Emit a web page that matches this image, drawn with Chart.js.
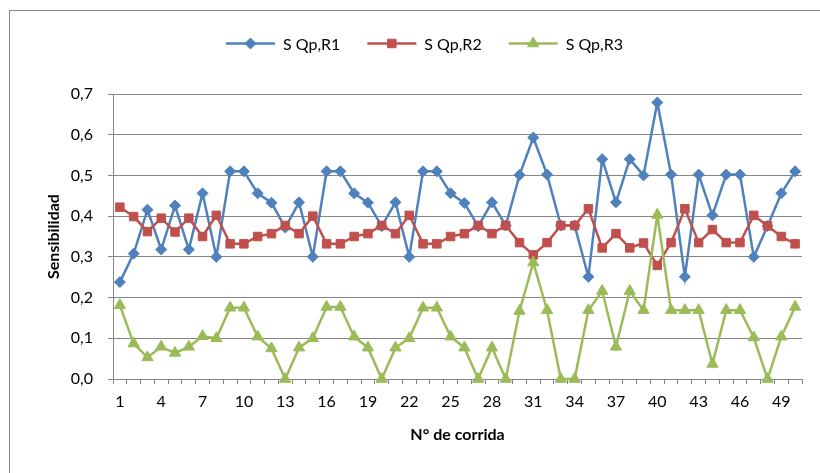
<!DOCTYPE html>
<html>
<head>
<meta charset="utf-8">
<script src="https://cdn.jsdelivr.net/npm/chart.js@4/dist/chart.umd.min.js"></script>
<style>
  html, body { margin: 0; padding: 0; background: #fff; }
</style>
</head>
<body>
<canvas id="chart" width="820" height="473"></canvas>
<script>
// N° de corrida
const runs = [
  1, 2, 3, 4, 5, 6, 7, 8, 9, 10,
  11, 12, 13, 14, 15, 16, 17, 18, 19, 20,
  21, 22, 23, 24, 25, 26, 27, 28, 29, 30,
  31, 32, 33, 34, 35, 36, 37, 38, 39, 40,
  41, 42, 43, 44, 45, 46, 47, 48, 49, 50
]
const shownRuns = [1, 4, 7, 10, 13, 16, 19, 22, 25, 28, 31, 34, 37, 40, 43, 46, 49]

const seriesNames = ["S Qp,R1", "S Qp,R2", "S Qp,R3"]

const sR1 = [
  0.238, 0.308, 0.416, 0.318, 0.426, 0.318, 0.456, 0.300, 0.510, 0.510,
  0.456, 0.433, 0.372, 0.434, 0.300, 0.510, 0.510, 0.456, 0.433, 0.375,
  0.434, 0.300, 0.510, 0.510, 0.456, 0.432, 0.375, 0.434, 0.377, 0.501,
  0.593, 0.502, 0.377, 0.377, 0.251, 0.540, 0.434, 0.540, 0.500, 0.679,
  0.502, 0.251, 0.502, 0.402, 0.502, 0.502, 0.300, 0.376, 0.456, 0.510
]
const sR2 = [
  0.422, 0.399, 0.362, 0.395, 0.361, 0.395, 0.350, 0.402, 0.332, 0.332,
  0.350, 0.357, 0.377, 0.357, 0.400, 0.332, 0.332, 0.350, 0.357, 0.377,
  0.357, 0.402, 0.332, 0.332, 0.350, 0.357, 0.377, 0.357, 0.377, 0.335,
  0.305, 0.335, 0.377, 0.377, 0.418, 0.322, 0.357, 0.322, 0.334, 0.279,
  0.335, 0.418, 0.335, 0.367, 0.335, 0.335, 0.402, 0.376, 0.350, 0.332
]
const sR3 = [
  0.181, 0.087, 0.053, 0.079, 0.064, 0.079, 0.105, 0.100, 0.175, 0.175,
  0.104, 0.075, 0.000, 0.077, 0.100, 0.177, 0.177, 0.104, 0.077, 0.000,
  0.077, 0.100, 0.175, 0.175, 0.104, 0.077, 0.000, 0.077, 0.000, 0.167,
  0.286, 0.169, 0.000, 0.000, 0.169, 0.216, 0.079, 0.216, 0.169, 0.403,
  0.169, 0.169, 0.169, 0.037, 0.169, 0.169, 0.102, 0.000, 0.104, 0.177
]

const BLUE = "#4F81BD"
const RED = "#C0504D"
const GREEN = "#9BBB59"
const AXIS_GRAY = "#868686"
const FONT = "Lato, 'Open Sans', sans-serif"

function seriesStyle(color, shape, radius, order) {
  return {
    borderColor: color,
    backgroundColor: color,
    pointBackgroundColor: color,
    pointBorderColor: color,
    pointBorderWidth: 1,
    pointStyle: shape,
    pointRadius: radius,
    pointHoverRadius: radius,
    borderWidth: 2.5,
    tension: 0,
    clip: false,
    order: order,
  }
}

// excel style legend: short line with the marker on it, then the label
const lineLegend = {
  id: "lineLegend",
  afterDraw(chart) {
    const ctx = chart.ctx
    const y = 43.5
    const center = 424.5
    const lineLen = 49
    const gap = 8
    const spacing = 27
    ctx.save()
    ctx.font = "16px " + FONT
    ctx.textBaseline = "middle"
    const items = chart.data.datasets.map((ds) => ({
      ds,
      w: ctx.measureText(ds.label).width,
    }))
    const total =
      items.reduce((s, it) => s + lineLen + gap + it.w, 0) +
      spacing * (items.length - 1)
    let x = center - total / 2
    items.forEach(({ds, w}) => {
      ctx.strokeStyle = ds.borderColor
      ctx.lineWidth = ds.borderWidth
      ctx.beginPath()
      ctx.moveTo(x, y)
      ctx.lineTo(x + lineLen, y)
      ctx.stroke()
      ctx.fillStyle = ds.pointBackgroundColor
      ctx.strokeStyle = ds.pointBorderColor
      ctx.lineWidth = 1
      Chart.helpers.drawPoint(
        ctx,
        {pointStyle: ds.pointStyle, radius: ds.pointRadius, borderWidth: 1, rotation: 0},
        x + lineLen / 2,
        y
      )
      ctx.fillStyle = "#000"
      ctx.textAlign = "left"
      ctx.fillText(ds.label, x + lineLen + gap, y + 1)
      x += lineLen + gap + w + spacing
    })
    ctx.restore()
  },
}

// white page and the thin grey frame round the chart object
const chartFrame = {
  id: "chartFrame",
  beforeDraw(chart) {
    const ctx = chart.ctx
    ctx.save()
    ctx.fillStyle = "#fff"
    ctx.fillRect(0, 0, chart.width, chart.height)
    ctx.strokeStyle = AXIS_GRAY
    ctx.lineWidth = 1
    ctx.strokeRect(9.5, 10.5, 830, 480)
    ctx.restore()
  },
}

new Chart(document.getElementById("chart"), {
  type: "line",
  data: {
    labels: runs,
    datasets: [
      {label: seriesNames[0], data: sR1, ...seriesStyle(BLUE, "rectRot", 5.5, 3)},
      {label: seriesNames[1], data: sR2, ...seriesStyle(RED, "rect", 6, 2)},
      {label: seriesNames[2], data: sR3, ...seriesStyle(GREEN, "triangle", 6.5, 1)},
    ],
  },
  options: {
    responsive: false,
    animation: false,
    layout: {padding: {left: 40, right: 18, top: 94, bottom: 25}},
    plugins: {
      legend: {display: false},
      tooltip: {enabled: false},
    },
    scales: {
      x: {
        offset: true,
        grid: {
          offset: true,
          drawOnChartArea: false,
          drawTicks: true,
          tickLength: 5,
          color: AXIS_GRAY,
        },
        border: {display: true, color: AXIS_GRAY, width: 1},
        ticks: {
          autoSkip: false,
          maxRotation: 0,
          padding: 8,
          color: "#000",
          font: {family: FONT, size: 16},
          callback: (v, i) => (shownRuns.includes(runs[i]) ? String(runs[i]) : ""),
        },
        title: {
          display: true,
          text: "N° de corrida",
          color: "#000",
          font: {family: FONT, size: 16, weight: "bold"},
          padding: {top: 4, bottom: 4},
        },
        afterFit: (s) => {
          s.height = 69
        },
      },
      y: {
        min: 0,
        max: 0.7,
        grid: {
          color: AXIS_GRAY,
          lineWidth: 1,
          drawTicks: true,
          tickLength: 5,
        },
        border: {display: true, color: AXIS_GRAY, width: 1},
        ticks: {
          stepSize: 0.1,
          padding: 15,
          color: "#000",
          font: {family: FONT, size: 16},
          callback: (v) => v.toFixed(1).replace(".", ","),
        },
        title: {
          display: true,
          text: "Sensibilidad",
          color: "#000",
          font: {family: FONT, size: 16, weight: "bold"},
          padding: {top: 4, bottom: 4},
        },
        afterFit: (s) => {
          s.width = 73
        },
      },
    },
  },
  plugins: [chartFrame, lineLegend],
})
</script>
</body>
</html>
